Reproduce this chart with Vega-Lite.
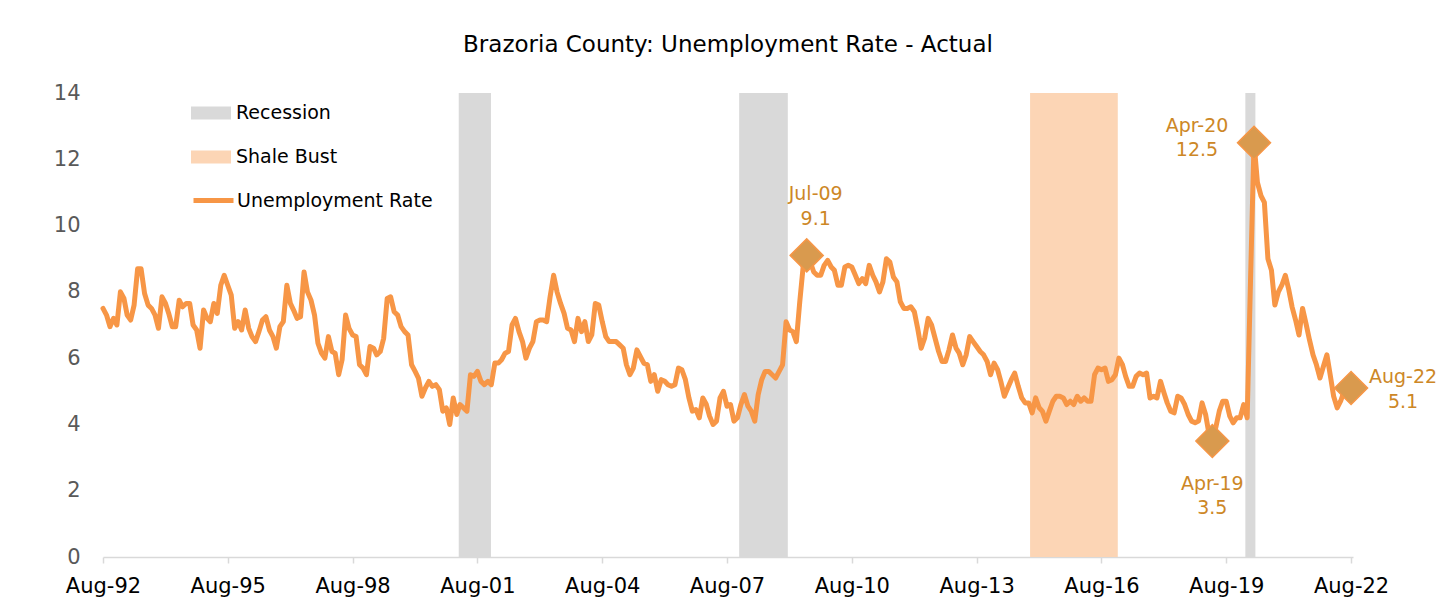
{
"$schema": "https://vega.github.io/schema/vega-lite/v6.json",
"width": 1250, "height": 464,
"autosize": "none",
"padding": {"left": 103, "top": 93, "right": 96, "bottom": 55},
"background": "white",
"config": {"view": {"stroke": null}, "font": "DejaVu Sans"},
"title": {"text": "Brazoria County: Unemployment Rate - Actual", "fontSize": 23, "fontWeight": "normal", "color": "#000000", "font": "DejaVu Sans", "anchor": "middle", "baseline": "alphabetic", "offset": 7},
"datasets": {
"rate": [
{"d":"1992-08-01","v":7.5},{"d":"1992-09-01","v":7.3},{"d":"1992-10-01","v":6.95},{"d":"1992-11-01","v":7.2},{"d":"1992-12-01","v":7.0},
{"d":"1993-01-01","v":8.0},{"d":"1993-02-01","v":7.8},{"d":"1993-03-01","v":7.3},{"d":"1993-04-01","v":7.15},{"d":"1993-05-01","v":7.6},{"d":"1993-06-01","v":8.7},{"d":"1993-07-01","v":8.7},{"d":"1993-08-01","v":7.95},{"d":"1993-09-01","v":7.6},{"d":"1993-10-01","v":7.5},{"d":"1993-11-01","v":7.3},{"d":"1993-12-01","v":6.9},
{"d":"1994-01-01","v":7.85},{"d":"1994-02-01","v":7.65},{"d":"1994-03-01","v":7.35},{"d":"1994-04-01","v":6.95},{"d":"1994-05-01","v":6.95},{"d":"1994-06-01","v":7.75},{"d":"1994-07-01","v":7.55},{"d":"1994-08-01","v":7.65},{"d":"1994-09-01","v":7.65},{"d":"1994-10-01","v":7.0},{"d":"1994-11-01","v":6.85},{"d":"1994-12-01","v":6.3},
{"d":"1995-01-01","v":7.45},{"d":"1995-02-01","v":7.2},{"d":"1995-03-01","v":7.1},{"d":"1995-04-01","v":7.65},{"d":"1995-05-01","v":7.35},{"d":"1995-06-01","v":8.2},{"d":"1995-07-01","v":8.5},{"d":"1995-08-01","v":8.2},{"d":"1995-09-01","v":7.9},{"d":"1995-10-01","v":6.9},{"d":"1995-11-01","v":7.1},{"d":"1995-12-01","v":6.85},
{"d":"1996-01-01","v":7.45},{"d":"1996-02-01","v":6.9},{"d":"1996-03-01","v":6.65},{"d":"1996-04-01","v":6.5},{"d":"1996-05-01","v":6.8},{"d":"1996-06-01","v":7.15},{"d":"1996-07-01","v":7.25},{"d":"1996-08-01","v":6.85},{"d":"1996-09-01","v":6.65},{"d":"1996-10-01","v":6.3},{"d":"1996-11-01","v":6.95},{"d":"1996-12-01","v":7.1},
{"d":"1997-01-01","v":8.2},{"d":"1997-02-01","v":7.65},{"d":"1997-03-01","v":7.45},{"d":"1997-04-01","v":7.2},{"d":"1997-05-01","v":7.25},{"d":"1997-06-01","v":8.6},{"d":"1997-07-01","v":8.0},{"d":"1997-08-01","v":7.75},{"d":"1997-09-01","v":7.3},{"d":"1997-10-01","v":6.45},{"d":"1997-11-01","v":6.15},{"d":"1997-12-01","v":6.0},
{"d":"1998-01-01","v":6.65},{"d":"1998-02-01","v":6.2},{"d":"1998-03-01","v":6.15},{"d":"1998-04-01","v":5.5},{"d":"1998-05-01","v":5.95},{"d":"1998-06-01","v":7.3},{"d":"1998-07-01","v":6.9},{"d":"1998-08-01","v":6.7},{"d":"1998-09-01","v":6.65},{"d":"1998-10-01","v":5.8},{"d":"1998-11-01","v":5.7},{"d":"1998-12-01","v":5.5},
{"d":"1999-01-01","v":6.35},{"d":"1999-02-01","v":6.3},{"d":"1999-03-01","v":6.1},{"d":"1999-04-01","v":6.2},{"d":"1999-05-01","v":6.6},{"d":"1999-06-01","v":7.8},{"d":"1999-07-01","v":7.85},{"d":"1999-08-01","v":7.4},{"d":"1999-09-01","v":7.3},{"d":"1999-10-01","v":6.95},{"d":"1999-11-01","v":6.8},{"d":"1999-12-01","v":6.7},
{"d":"2000-01-01","v":5.8},{"d":"2000-02-01","v":5.6},{"d":"2000-03-01","v":5.4},{"d":"2000-04-01","v":4.85},{"d":"2000-05-01","v":5.1},{"d":"2000-06-01","v":5.3},{"d":"2000-07-01","v":5.15},{"d":"2000-08-01","v":5.2},{"d":"2000-09-01","v":5.05},{"d":"2000-10-01","v":4.4},{"d":"2000-11-01","v":4.5},{"d":"2000-12-01","v":4.0},
{"d":"2001-01-01","v":4.8},{"d":"2001-02-01","v":4.3},{"d":"2001-03-01","v":4.6},{"d":"2001-04-01","v":4.5},{"d":"2001-05-01","v":4.4},{"d":"2001-06-01","v":5.5},{"d":"2001-07-01","v":5.45},{"d":"2001-08-01","v":5.6},{"d":"2001-09-01","v":5.3},{"d":"2001-10-01","v":5.2},{"d":"2001-11-01","v":5.3},{"d":"2001-12-01","v":5.2},
{"d":"2002-01-01","v":5.85},{"d":"2002-02-01","v":5.85},{"d":"2002-03-01","v":5.95},{"d":"2002-04-01","v":6.15},{"d":"2002-05-01","v":6.2},{"d":"2002-06-01","v":7.0},{"d":"2002-07-01","v":7.2},{"d":"2002-08-01","v":6.8},{"d":"2002-09-01","v":6.5},{"d":"2002-10-01","v":6.0},{"d":"2002-11-01","v":6.3},{"d":"2002-12-01","v":6.5},
{"d":"2003-01-01","v":7.1},{"d":"2003-02-01","v":7.15},{"d":"2003-03-01","v":7.15},{"d":"2003-04-01","v":7.1},{"d":"2003-05-01","v":7.85},{"d":"2003-06-01","v":8.5},{"d":"2003-07-01","v":8.0},{"d":"2003-08-01","v":7.65},{"d":"2003-09-01","v":7.35},{"d":"2003-10-01","v":6.9},{"d":"2003-11-01","v":6.85},{"d":"2003-12-01","v":6.5},
{"d":"2004-01-01","v":7.2},{"d":"2004-02-01","v":6.8},{"d":"2004-03-01","v":7.1},{"d":"2004-04-01","v":6.5},{"d":"2004-05-01","v":6.7},{"d":"2004-06-01","v":7.65},{"d":"2004-07-01","v":7.6},{"d":"2004-08-01","v":7.1},{"d":"2004-09-01","v":6.65},{"d":"2004-10-01","v":6.5},{"d":"2004-11-01","v":6.5},{"d":"2004-12-01","v":6.5},
{"d":"2005-01-01","v":6.4},{"d":"2005-02-01","v":6.3},{"d":"2005-03-01","v":5.8},{"d":"2005-04-01","v":5.5},{"d":"2005-05-01","v":5.7},{"d":"2005-06-01","v":6.25},{"d":"2005-07-01","v":6.05},{"d":"2005-08-01","v":5.85},{"d":"2005-09-01","v":5.8},{"d":"2005-10-01","v":5.3},{"d":"2005-11-01","v":5.5},{"d":"2005-12-01","v":5.0},
{"d":"2006-01-01","v":5.35},{"d":"2006-02-01","v":5.3},{"d":"2006-03-01","v":5.2},{"d":"2006-04-01","v":5.15},{"d":"2006-05-01","v":5.2},{"d":"2006-06-01","v":5.7},{"d":"2006-07-01","v":5.65},{"d":"2006-08-01","v":5.35},{"d":"2006-09-01","v":4.8},{"d":"2006-10-01","v":4.4},{"d":"2006-11-01","v":4.45},{"d":"2006-12-01","v":4.2},
{"d":"2007-01-01","v":4.8},{"d":"2007-02-01","v":4.6},{"d":"2007-03-01","v":4.25},{"d":"2007-04-01","v":4.0},{"d":"2007-05-01","v":4.1},{"d":"2007-06-01","v":4.8},{"d":"2007-07-01","v":5.0},{"d":"2007-08-01","v":4.55},{"d":"2007-09-01","v":4.6},{"d":"2007-10-01","v":4.1},{"d":"2007-11-01","v":4.2},{"d":"2007-12-01","v":4.6},
{"d":"2008-01-01","v":4.9},{"d":"2008-02-01","v":4.55},{"d":"2008-03-01","v":4.4},{"d":"2008-04-01","v":4.1},{"d":"2008-05-01","v":4.9},{"d":"2008-06-01","v":5.35},{"d":"2008-07-01","v":5.6},{"d":"2008-08-01","v":5.6},{"d":"2008-09-01","v":5.5},{"d":"2008-10-01","v":5.4},{"d":"2008-11-01","v":5.6},{"d":"2008-12-01","v":5.8},
{"d":"2009-01-01","v":7.1},{"d":"2009-02-01","v":6.85},{"d":"2009-03-01","v":6.8},{"d":"2009-04-01","v":6.5},{"d":"2009-05-01","v":7.7},{"d":"2009-06-01","v":8.8},{"d":"2009-07-01","v":9.1},{"d":"2009-08-01","v":8.9},{"d":"2009-09-01","v":8.6},{"d":"2009-10-01","v":8.5},{"d":"2009-11-01","v":8.5},{"d":"2009-12-01","v":8.8},
{"d":"2010-01-01","v":8.95},{"d":"2010-02-01","v":8.75},{"d":"2010-03-01","v":8.65},{"d":"2010-04-01","v":8.2},{"d":"2010-05-01","v":8.2},{"d":"2010-06-01","v":8.75},{"d":"2010-07-01","v":8.8},{"d":"2010-08-01","v":8.75},{"d":"2010-09-01","v":8.5},{"d":"2010-10-01","v":8.25},{"d":"2010-11-01","v":8.4},{"d":"2010-12-01","v":8.25},
{"d":"2011-01-01","v":8.8},{"d":"2011-02-01","v":8.5},{"d":"2011-03-01","v":8.3},{"d":"2011-04-01","v":8.0},{"d":"2011-05-01","v":8.3},{"d":"2011-06-01","v":9.0},{"d":"2011-07-01","v":8.9},{"d":"2011-08-01","v":8.45},{"d":"2011-09-01","v":8.3},{"d":"2011-10-01","v":7.7},{"d":"2011-11-01","v":7.5},{"d":"2011-12-01","v":7.5},
{"d":"2012-01-01","v":7.55},{"d":"2012-02-01","v":7.4},{"d":"2012-03-01","v":6.9},{"d":"2012-04-01","v":6.3},{"d":"2012-05-01","v":6.6},{"d":"2012-06-01","v":7.2},{"d":"2012-07-01","v":7.0},{"d":"2012-08-01","v":6.6},{"d":"2012-09-01","v":6.2},{"d":"2012-10-01","v":5.9},{"d":"2012-11-01","v":5.9},{"d":"2012-12-01","v":6.25},
{"d":"2013-01-01","v":6.7},{"d":"2013-02-01","v":6.3},{"d":"2013-03-01","v":6.15},{"d":"2013-04-01","v":5.8},{"d":"2013-05-01","v":6.1},{"d":"2013-06-01","v":6.65},{"d":"2013-07-01","v":6.5},{"d":"2013-08-01","v":6.35},{"d":"2013-09-01","v":6.2},{"d":"2013-10-01","v":6.1},{"d":"2013-11-01","v":5.9},{"d":"2013-12-01","v":5.5},
{"d":"2014-01-01","v":5.85},{"d":"2014-02-01","v":5.65},{"d":"2014-03-01","v":5.3},{"d":"2014-04-01","v":4.85},{"d":"2014-05-01","v":5.1},{"d":"2014-06-01","v":5.35},{"d":"2014-07-01","v":5.55},{"d":"2014-08-01","v":5.15},{"d":"2014-09-01","v":4.8},{"d":"2014-10-01","v":4.65},{"d":"2014-11-01","v":4.65},{"d":"2014-12-01","v":4.35},
{"d":"2015-01-01","v":4.8},{"d":"2015-02-01","v":4.5},{"d":"2015-03-01","v":4.4},{"d":"2015-04-01","v":4.1},{"d":"2015-05-01","v":4.4},{"d":"2015-06-01","v":4.7},{"d":"2015-07-01","v":4.85},{"d":"2015-08-01","v":4.85},{"d":"2015-09-01","v":4.8},{"d":"2015-10-01","v":4.6},{"d":"2015-11-01","v":4.7},{"d":"2015-12-01","v":4.6},
{"d":"2016-01-01","v":4.85},{"d":"2016-02-01","v":4.7},{"d":"2016-03-01","v":4.8},{"d":"2016-04-01","v":4.7},{"d":"2016-05-01","v":4.7},{"d":"2016-06-01","v":5.5},{"d":"2016-07-01","v":5.7},{"d":"2016-08-01","v":5.65},{"d":"2016-09-01","v":5.7},{"d":"2016-10-01","v":5.3},{"d":"2016-11-01","v":5.35},{"d":"2016-12-01","v":5.5},
{"d":"2017-01-01","v":6.0},{"d":"2017-02-01","v":5.8},{"d":"2017-03-01","v":5.45},{"d":"2017-04-01","v":5.15},{"d":"2017-05-01","v":5.15},{"d":"2017-06-01","v":5.45},{"d":"2017-07-01","v":5.55},{"d":"2017-08-01","v":5.5},{"d":"2017-09-01","v":5.55},{"d":"2017-10-01","v":4.8},{"d":"2017-11-01","v":4.85},{"d":"2017-12-01","v":4.8},
{"d":"2018-01-01","v":5.3},{"d":"2018-02-01","v":4.95},{"d":"2018-03-01","v":4.65},{"d":"2018-04-01","v":4.4},{"d":"2018-05-01","v":4.35},{"d":"2018-06-01","v":4.85},{"d":"2018-07-01","v":4.8},{"d":"2018-08-01","v":4.6},{"d":"2018-09-01","v":4.3},{"d":"2018-10-01","v":4.1},{"d":"2018-11-01","v":4.05},{"d":"2018-12-01","v":4.1},
{"d":"2019-01-01","v":4.65},{"d":"2019-02-01","v":4.3},{"d":"2019-03-01","v":3.75},{"d":"2019-04-01","v":3.5},{"d":"2019-05-01","v":3.9},{"d":"2019-06-01","v":4.4},{"d":"2019-07-01","v":4.7},{"d":"2019-08-01","v":4.7},{"d":"2019-09-01","v":4.25},{"d":"2019-10-01","v":4.05},{"d":"2019-11-01","v":4.2},{"d":"2019-12-01","v":4.2},
{"d":"2020-01-01","v":4.6},{"d":"2020-02-01","v":4.2},{"d":"2020-03-01","v":8.3},{"d":"2020-04-01","v":12.5},{"d":"2020-05-01","v":11.3},{"d":"2020-06-01","v":10.9},{"d":"2020-07-01","v":10.7},{"d":"2020-08-01","v":9.0},{"d":"2020-09-01","v":8.65},{"d":"2020-10-01","v":7.6},{"d":"2020-11-01","v":8.0},{"d":"2020-12-01","v":8.2},
{"d":"2021-01-01","v":8.5},{"d":"2021-02-01","v":8.05},{"d":"2021-03-01","v":7.55},{"d":"2021-04-01","v":7.15},{"d":"2021-05-01","v":6.7},{"d":"2021-06-01","v":7.5},{"d":"2021-07-01","v":7.05},{"d":"2021-08-01","v":6.55},{"d":"2021-09-01","v":6.1},{"d":"2021-10-01","v":5.8},{"d":"2021-11-01","v":5.4},{"d":"2021-12-01","v":5.75},
{"d":"2022-01-01","v":6.1},{"d":"2022-02-01","v":5.45},{"d":"2022-03-01","v":4.85},{"d":"2022-04-01","v":4.5},{"d":"2022-05-01","v":4.7},{"d":"2022-06-01","v":5.0},{"d":"2022-07-01","v":5.3},{"d":"2022-08-01","v":5.1}
],
"bands": [
{"start":"2001-02-18","end":"2001-11-28","type":"Recession"},
{"start":"2007-11-16","end":"2009-01-16","type":"Recession"},
{"start":"2014-11-13","end":"2016-12-22","type":"Shale Bust"},
{"start":"2020-01-16","end":"2020-04-13","type":"Recession"}
],
"marks": [
{"d":"2009-07-01","v":9.1,"label":"Jul-09\n9.1","pos":"above"},
{"d":"2020-04-01","v":12.5,"label":"Apr-20\n12.5","pos":"left"},
{"d":"2019-04-01","v":3.5,"label":"Apr-19\n3.5","pos":"below"},
{"d":"2022-08-01","v":5.1,"label":"Aug-22\n5.1","pos":"right"}
]
},
"layer": [
{"data": {"name": "bands"},
 "mark": {"type": "rect"},
 "encoding": {
  "x": {"field": "start", "type": "temporal",
        "scale": {"type": "utc", "domain": [{"year":1992,"month":8,"date":1,"utc":true},{"year":2022,"month":8,"date":18,"utc":true}]},
        "axis": {"values": [{"year":1992,"month":8,"date":1,"utc":true},{"year":1995,"month":8,"date":1,"utc":true},{"year":1998,"month":8,"date":1,"utc":true},{"year":2001,"month":8,"date":1,"utc":true},{"year":2004,"month":8,"date":1,"utc":true},{"year":2007,"month":8,"date":1,"utc":true},{"year":2010,"month":8,"date":1,"utc":true},{"year":2013,"month":8,"date":1,"utc":true},{"year":2016,"month":8,"date":1,"utc":true},{"year":2019,"month":8,"date":1,"utc":true},{"year":2022,"month":8,"date":1,"utc":true}],
                 "format": "%b-%y", "title": null, "grid": false,
                 "labelFontSize": 21, "labelFont": "DejaVu Sans", "labelColor": "#000000", "labelPadding": 12,
                 "labelFlush": false, "labelOverlap": false,
                 "tickSize": 6, "tickColor": "#D9D9D9", "tickWidth": 1.5,
                 "domainColor": "#D9D9D9", "domainWidth": 1.5}},
  "x2": {"field": "end"},
  "y": {"datum": 14, "type": "quantitative",
        "scale": {"domain": [0, 14], "nice": false, "zero": true},
        "axis": {"values": [0,2,4,6,8,10,12,14], "title": null, "grid": false, "domain": false, "ticks": false, "tickSize": 0,
                 "labelFontSize": 21, "labelFont": "DejaVu Sans", "labelColor": "#595959", "labelPadding": 23}},
  "y2": {"datum": 0},
  "color": {"field": "type", "type": "nominal",
            "scale": {"domain": ["Recession", "Shale Bust"], "range": ["#D9D9D9", "#FCD5B5"]},
            "legend": {"title": null, "orient": "none", "legendX": 88, "legendY": 0, "padding": 0,
                       "symbolType": "M-1,-0.33H1V0.33H-1Z", "symbolSize": 1600, "symbolStrokeWidth": 0, "symbolOpacity": 1,
                       "labelFontSize": 19, "labelFont": "DejaVu Sans", "labelColor": "#000000", "labelOffset": 5, "rowPadding": 14, "labelLimit": 300}}
 }},
{"data": {"name": "rate"},
 "mark": {"type": "line", "strokeWidth": 5, "strokeJoin": "round", "strokeCap": "round"},
 "encoding": {
  "x": {"field": "d", "type": "temporal"},
  "y": {"field": "v", "type": "quantitative"},
  "color": {"datum": "Unemployment Rate", "type": "nominal",
            "scale": {"range": ["#F79646"]},
            "legend": {"title": null, "orient": "none", "legendX": 88, "legendY": 85, "padding": 0,
                       "symbolType": "stroke", "symbolSize": 1600, "symbolStrokeWidth": 5,
                       "labelFontSize": 19, "labelFont": "DejaVu Sans", "labelColor": "#000000", "labelOffset": 1, "labelLimit": 300}}
 }},
{"data": {"name": "marks"},
 "mark": {"type": "point", "shape": "diamond", "size": 1089, "filled": true, "fill": "#D99A4E", "stroke": "#F79646", "strokeWidth": 1.5, "opacity": 1},
 "encoding": {"x": {"field": "d", "type": "temporal"}, "y": {"field": "v", "type": "quantitative"}}},
{"data": {"name": "marks"}, "transform": [{"filter": "datum.pos == 'above'"}],
 "mark": {"type": "text", "fontSize": 19, "font": "DejaVu Sans", "color": "#CD8726", "lineBreak": "\n", "lineHeight": 25, "baseline": "alphabetic", "align": "center", "dx": 9, "dy": -55},
 "encoding": {"x": {"field": "d", "type": "temporal"}, "y": {"field": "v", "type": "quantitative"}, "text": {"field": "label"}}},
{"data": {"name": "marks"}, "transform": [{"filter": "datum.pos == 'left'"}],
 "mark": {"type": "text", "fontSize": 19, "font": "DejaVu Sans", "color": "#CD8726", "lineBreak": "\n", "lineHeight": 24, "baseline": "alphabetic", "align": "center", "dx": -57, "dy": -11},
 "encoding": {"x": {"field": "d", "type": "temporal"}, "y": {"field": "v", "type": "quantitative"}, "text": {"field": "label"}}},
{"data": {"name": "marks"}, "transform": [{"filter": "datum.pos == 'below'"}],
 "mark": {"type": "text", "fontSize": 19, "font": "DejaVu Sans", "color": "#CD8726", "lineBreak": "\n", "lineHeight": 24, "baseline": "alphabetic", "align": "center", "dx": 0, "dy": 49},
 "encoding": {"x": {"field": "d", "type": "temporal"}, "y": {"field": "v", "type": "quantitative"}, "text": {"field": "label"}}},
{"data": {"name": "marks"}, "transform": [{"filter": "datum.pos == 'right'"}],
 "mark": {"type": "text", "fontSize": 19, "font": "DejaVu Sans", "color": "#CD8726", "lineBreak": "\n", "lineHeight": 25, "baseline": "alphabetic", "align": "center", "dx": 52, "dy": -5},
 "encoding": {"x": {"field": "d", "type": "temporal"}, "y": {"field": "v", "type": "quantitative"}, "text": {"field": "label"}}}
],
"resolve": {"scale": {"color": "independent"}}
}
